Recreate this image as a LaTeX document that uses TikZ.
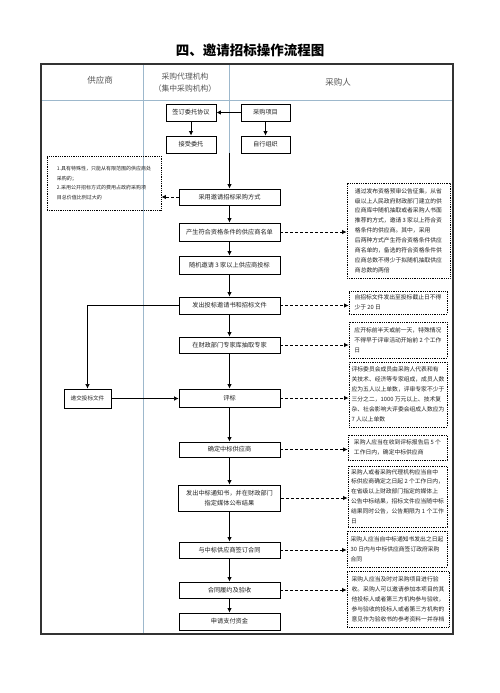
\documentclass[tikz,border=0pt]{standalone}
\usepackage{fontspec}
\setmainfont{Noto Sans CJK SC}
\usetikzlibrary{arrows.meta}
\definecolor{hdrline}{HTML}{9DB8CC}
\definecolor{txtc}{HTML}{222222}
\definecolor{hdrtxt}{HTML}{555555}
\begin{document}
\begin{tikzpicture}[x=1pt,y=-1pt,
  every node/.style={text=txtc},
  sbox/.style={draw=black, line width=0.8pt, inner sep=1pt, minimum width=#1, font=\fontsize{6.2}{8}\selectfont, align=center},
  sbox/.default=101pt,
  dbox/.style={draw=black, line width=0.8pt, densely dotted, inner sep=2pt, align=left, font=\fontsize{5.8}{9.9}\selectfont},
  flow/.style={line width=1pt, -{Latex[length=4.5pt,width=4.5pt]}},
  thinflow/.style={line width=0.6pt, -{Latex[length=4.5pt,width=4.5pt]}},
  dflow/.style={line width=1pt, dash pattern=on 3pt off 2pt, -{Latex[length=4.5pt,width=4.5pt]}},
  hdr/.style={text=hdrtxt, align=center},
]
\useasboundingbox (0,0) rectangle (500,693);
\fill[white] (0,0) rectangle (500,693);

% title
\node[font=\fontsize{13.5}{15}\selectfont\bfseries, text=black] (title) at (250,50) {四、邀请招标操作流程图};

% frame and lanes
\draw[hdrline, line width=0.7pt] (41,100) -- (453,100);
\draw[hdrline, line width=0.7pt] (143,64) -- (143,634);
\draw[hdrline, line width=0.7pt] (229,64) -- (229,153);
\draw[black!80, line width=1.4pt] (41,64) rectangle (453,634);

\node[hdr, font=\fontsize{8.5}{10}\selectfont] (h1) at (100,80) {供应商};
\node[hdr, font=\fontsize{7.8}{12}\selectfont] (h2) at (185,83) {采购代理机构\\（集中采购机构）};
\node[hdr, font=\fontsize{8.5}{10}\selectfont] (h3) at (338,82) {采购人};

% top boxes
\node[sbox=50pt, minimum height=17pt] (t1) at (191,112.5) {签订委托协议};
\node[sbox=49pt, minimum height=17pt] (t2) at (265.5,112.5) {采购项目};
\node[sbox=50pt, minimum height=17pt] (t3) at (191,144.5) {接受委托};
\node[sbox=49pt, minimum height=17pt] (t4) at (265.5,144.5) {自行组织};

% centre chain
\node[sbox, minimum height=16pt] (c1) at (229.5,197) {采用邀请招标采购方式};
\node[sbox, minimum height=18pt] (c2) at (229.5,232) {产生符合资格条件的供应商名单};
\node[sbox, minimum height=18pt] (c3) at (229.5,265) {随机邀请 3 家以上供应商投标};
\node[sbox, minimum height=17pt] (c4) at (229.5,305.5) {发出投标邀请书和招标文件};
\node[sbox, minimum height=16pt] (c5) at (229.5,345) {在财政部门专家库抽取专家};
\node[sbox, minimum height=18pt] (c6) at (229.5,398) {评标};
\node[sbox, minimum height=15pt] (c7) at (229.5,449.5) {确定中标供应商};
\node[sbox=102pt, minimum height=26pt, font=\fontsize{6.2}{10}\selectfont] (c8) at (229.5,498) {发出中标通知书，并在财政部门\\指定媒体公布结果};
\node[sbox, minimum height=16pt] (c9) at (229.5,550) {与中标供应商签订合同};
\node[sbox, minimum height=16pt] (c10) at (229.5,590) {合同履约及验收};
\node[sbox, minimum height=17pt] (c11) at (229.5,621.5) {申请支付资金};

% supplier box
\node[sbox=47pt, minimum height=19pt, font=\fontsize{5.6}{7}\selectfont] (s1) at (87.5,398.5) {递交投标文件};

% left note
\node[dbox, minimum width=114pt, minimum height=54pt, font=\fontsize{5}{9.7}\selectfont] (l1) at (104,183) {1.具有特殊性，只能从有限范围的供应商处\\采购的；\\2.采用公开招标方式的费用占政府采购项\\目总价值比例过大的};

% right notes
\node[dbox, minimum width=103pt, minimum height=95pt] (r1) at (398.5,230.5) {通过发布资格预审公告征集，从省\\级以上人民政府财政部门建立的供\\应商库中随机抽取或者采购人书面\\推荐的方式，邀请 3 家以上符合资\\格条件的供应商。其中，采用\\后两种方式产生符合资格条件供应\\商名单的，备选的符合资格条件供\\应商总数不得少于拟随机抽取供应\\商总数的两倍};
\node[dbox, minimum width=98pt, minimum height=23pt] (r2) at (398,302.5) {自招标文件发出至投标截止日不得\\少于 20 日};
\node[dbox, minimum width=98pt, minimum height=36pt] (r3) at (398,340) {应开标前半天或前一天，特殊情况\\不得早于评审活动开始前 2 个工作\\日};
\node[dbox, minimum width=98pt, minimum height=65pt] (r4) at (398,394.5) {评标委员会成员由采购人代表和有\\关技术、经济等专家组成，成员人数\\应为五人以上单数，评审专家不少于\\三分之二，1000 万元以上、技术复\\杂、社会影响大评委会组成人数应为\\7 人以上单数};
\node[dbox, minimum width=99pt, minimum height=25pt] (r5) at (397.5,447.5) {采购人应当在收到评标报告后 5 个\\工作日内，确定中标供应商};
\node[dbox, minimum width=99pt, minimum height=61pt] (r6) at (397.5,496.5) {采购人或者采购代理机构应当自中\\标供应商确定之日起 2 个工作日内，\\在省级以上财政部门指定的媒体上\\公告中标结果，招标文件应当随中标\\结果同时公告，公告期限为 1 个工作\\日};
\node[dbox, minimum width=100pt, minimum height=36pt] (r7) at (397,549) {采购人应当自中标通知书发出之日起\\30 日内与中标供应商签订政府采购\\合同};
\node[dbox, minimum width=102pt, minimum height=56pt] (r8) at (398,599) {采购人应当及时对采购项目进行验\\收。采购人可以邀请参加本项目的其\\他投标人或者第三方机构参与验收，\\参与验收的投标人或者第三方机构的\\意见作为验收书的参考资料一并存档};

% top connectors
\draw[flow] (t2) -- (t1);
\draw[flow] (t1) -- (t3);
\draw[flow] (t2) -- (t4);
\coordinate (c0) at (c1.north |- t3.south);
\draw[flow] (c0) -- (c1);

% centre chain connectors
\draw[flow] (c1) -- (c2);
\draw[flow] (c2) -- (c3);
\draw[flow] (c3) -- (c4);
\draw[flow] (c4) -- (c5);
\draw[flow] (c5) -- (c6);
\draw[flow] (c6) -- (c7);
\draw[flow] (c7) -- (c8);
\draw[flow] (c8) -- (c9);
\draw[flow] (c9) -- (c10);
\draw[flow] (c10) -- (c11);

% supplier loop
\draw[thinflow] (c4.west) -| (s1.north);
\draw[thinflow] (s1.east) -- (s1.east -| c6.west);

% dashed notes
\draw[dflow] (c1.west) -- (c1.west -| l1.east);
\draw[dflow] (c2.east) -- (c2.east -| r1.west);
\draw[dflow] (c4.east) -- (c4.east -| r2.west);
\draw[dflow] (c5.east) -- (c5.east -| r3.west);
\draw[dflow] (c6.east) -- (c6.east -| r4.west);
\draw[dflow] (c7.east) -- (c7.east -| r5.west);
\draw[dflow] (c8.east) -- (c8.east -| r6.west);
\draw[dflow] (c9.east) -- (c9.east -| r7.west);
\draw[dflow] (c10.east) -- (c10.east -| r8.west);
\end{tikzpicture}
\end{document}
